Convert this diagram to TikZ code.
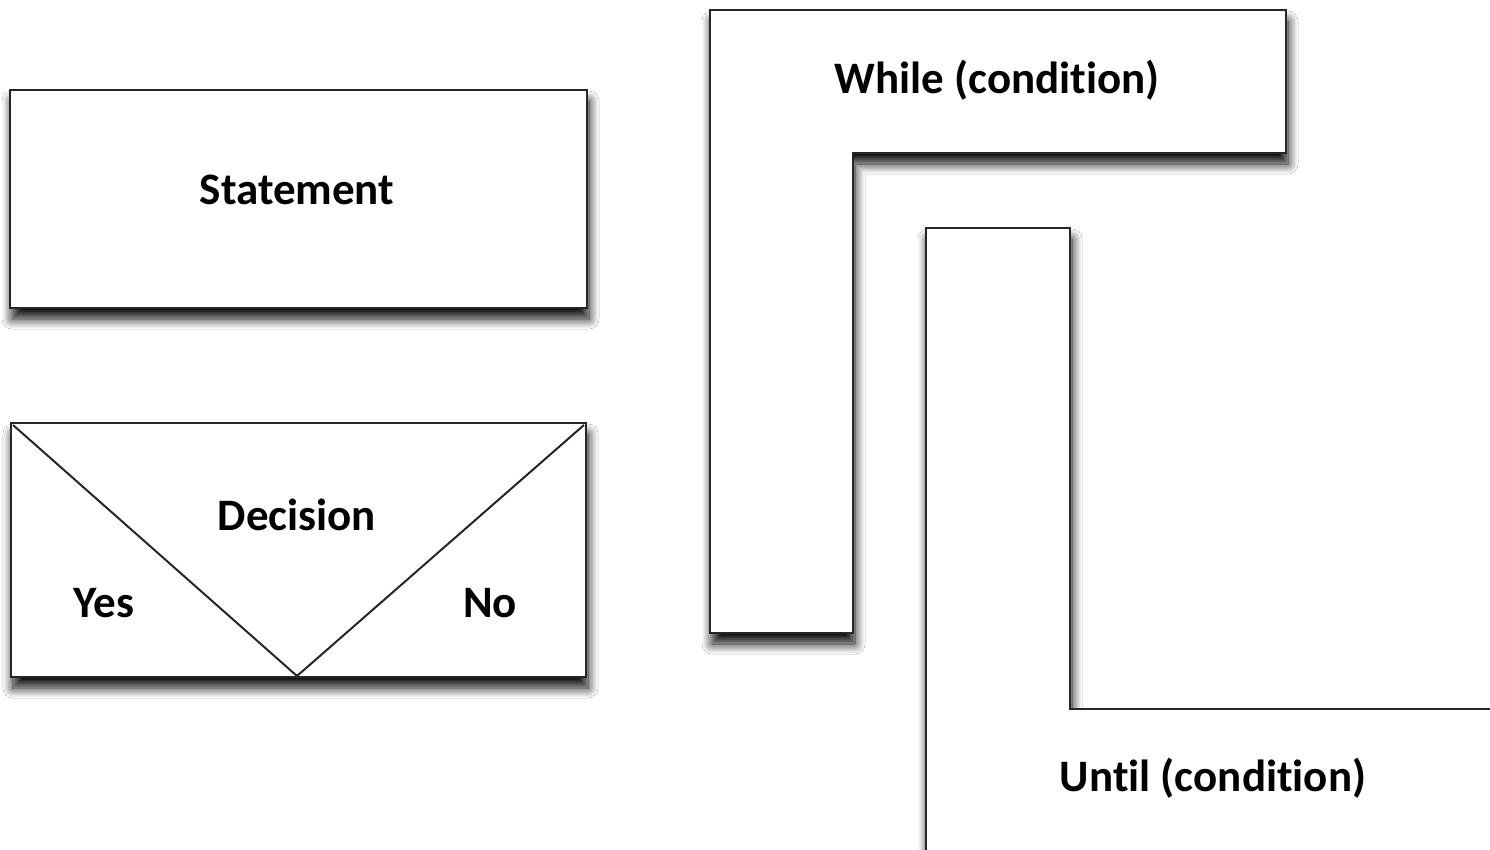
\documentclass[tikz,border=0pt]{standalone}
\usepackage{fontspec}
\setmainfont{Carlito}[Ligatures=NoCommon]
\usetikzlibrary{shadows.blur}
\begin{document}
\begin{tikzpicture}[x=1pt,y=-1pt,
  outline/.style={draw=black!85,line width=2.6pt,line join=miter},
  shade box/.style={fill=white,blur shadow={shadow xshift=2pt,shadow yshift=-11pt,shadow blur radius=10pt,shadow blur steps=12,shadow opacity=95}},
  label/.style={font=\bfseries\fontsize{45}{54}\selectfont,inner sep=0pt}]
\useasboundingbox (0,0) rectangle (1490,850);
\clip (0,0) rectangle (1490,850);
\fill[white] (0,0) rectangle (1490,850);

% statement block
\path[shade box] (10,90) rectangle (587,308);
\draw[outline] (10,90) rectangle (587,308);
\node[label] (stmt) at (297,190) {Statement};

% decision block with the V split
\path[shade box] (11,423) rectangle (586,677);
\draw[outline] (11,423) rectangle (586,677);
\coordinate (dtl) at (13,425);
\coordinate (dtr) at (584,425);
\coordinate (dbot) at (297,676);
\draw[line width=2pt,black!85] (dtl) -- (dbot) -- (dtr);
\node[label] (dec) at (297,515) {Decision};
\node[label] (yes) at (104,603) {Yes};
\node[label] (no) at (490,603) {No};

% while loop bracket
\path[shade box] (710,10) -- (1286,10) -- (1286,153) -- (853,153) -- (853,633) -- (710,633) -- cycle;
\draw[outline] (710,10) -- (1286,10) -- (1286,153) -- (853,153) -- (853,633) -- (710,633) -- cycle;
\node[label] (while) at (997,80) {While (condition)};

% until loop bracket, running off the page
\path[shade box] (926,900) -- (926,228) -- (1070,228) -- (1070,709) -- (1560,709) -- (1560,900) -- cycle;
\draw[outline] (926,860) -- (926,228) -- (1070,228) -- (1070,709) -- (1500,709);
\node[label] (until) at (1213,778) {Until (condition)};
\end{tikzpicture}
\end{document}
